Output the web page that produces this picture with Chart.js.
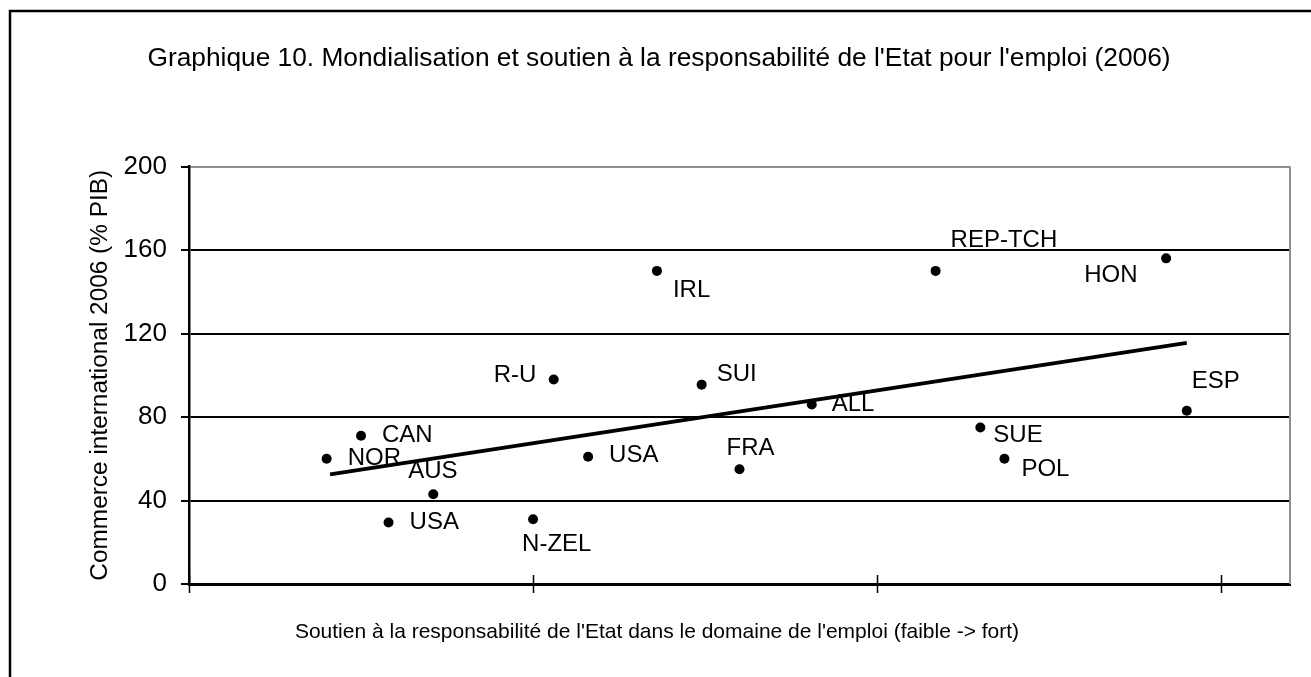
<!DOCTYPE html>
<html><head><meta charset="utf-8">
<script src="https://cdn.jsdelivr.net/npm/chart.js@4.4.1/dist/chart.umd.min.js"></script>
<style>html,body{margin:0;padding:0;background:#fff;overflow:hidden}canvas{display:block}</style>
</head><body>
<canvas id="c" width="1311" height="677"></canvas>
<script>
const countries = ["NOR","CAN","AUS","USA","N-ZEL","R-U","USA","IRL","SUI","FRA","ALL","REP-TCH","HON","ESP","SUE","POL"];
const stateSupport = [0.40,0.50,0.71,0.58,1.00,1.06,1.16,1.36,1.49,1.60,1.81,2.17,2.84,2.90,2.30,2.37];
const tradeShare = [60,71,43,29.5,31,98,61,150,95.5,55,86,150,156,83,75,60];
const trendSupport = [0.41, 2.90];
const trendTrade = [52.5, 115.5];
const yTickValues = [0,40,80,120,160,200];
const xTickValues = [0,1,2,3];
const chartTitle = "Graphique 10. Mondialisation et soutien à la responsabilité de l'Etat pour l'emploi (2006)";
const xTitle = "Soutien à la responsabilité de l'Etat dans le domaine de l'emploi (faible -> fort)";
const yTitle = "Commerce international 2006 (% PIB)";
// label placement (text left edge / vertical centre relative to the marker), styling only
const labelOffsets = [[21,0],[21,0],[-25,-23],[21,0],[-11,25],[-60,-4],[21,-1],[16,19],[15,-10],[-13,-21],[20,0],[15,-31],[-82,17],[5,-29],[13,8],[17,11]];

const FONT = '"Liberation Sans", Arial, sans-serif';

const decor = {
  id: 'decor',
  afterDatasetsDraw(chart) {
    const ctx = chart.ctx;
    const meta = chart.getDatasetMeta(0);
    ctx.save();
    ctx.fillStyle = '#000';
    ctx.font = '24px ' + FONT;
    ctx.textAlign = 'left';
    ctx.textBaseline = 'middle';
    meta.data.forEach((pt, i) => {
      const off = labelOffsets[i];
      ctx.fillText(countries[i], pt.x + off[0], pt.y + off[1]);
    });
    ctx.restore();
  },
  afterDraw(chart) {
    const ctx = chart.ctx;
    const a = chart.chartArea;
    const xs = chart.scales.x;
    ctx.save();
    // right plot border (grey)
    ctx.strokeStyle = '#8f8f8f';
    ctx.lineWidth = 2;
    ctx.beginPath();
    ctx.moveTo(Math.round(a.right), a.top);
    ctx.lineTo(Math.round(a.right), a.bottom);
    ctx.stroke();
    // crossing tick marks on x axis
    ctx.strokeStyle = '#000';
    ctx.lineWidth = 1.5;
    xTickValues.forEach(v => {
      const px = Math.round(xs.getPixelForValue(v)) + 0.5;
      ctx.beginPath();
      ctx.moveTo(px, a.bottom - 9);
      ctx.lineTo(px, a.bottom + 9);
      ctx.stroke();
    });
    // titles
    ctx.fillStyle = '#000';
    ctx.textAlign = 'center';
    ctx.textBaseline = 'middle';
    ctx.font = '26.3px ' + FONT;
    ctx.fillText(chartTitle, 659, 59);
    ctx.font = '21px ' + FONT;
    ctx.fillText(xTitle, 657, 632);
    // outer frame
    ctx.lineWidth = 2.5;
    ctx.beginPath();
    ctx.moveTo(10, chart.height);
    ctx.lineTo(10, 11);
    ctx.lineTo(chart.width, 11);
    ctx.stroke();
    ctx.restore();
  }
};

new Chart(document.getElementById('c').getContext('2d'), {
  type: 'scatter',
  data: {
    datasets: [
      {
        type: 'scatter',
        data: countries.map((c, i) => ({x: stateSupport[i], y: tradeShare[i]})),
        pointRadius: 5,
        pointBackgroundColor: '#000',
        pointBorderWidth: 0,
        order: 2
      },
      {
        type: 'line',
        data: trendSupport.map((x, i) => ({x: x, y: trendTrade[i]})),
        borderColor: '#000',
        borderWidth: 3.8,
        pointRadius: 0,
        fill: false,
        tension: 0,
        order: 1
      }
    ]
  },
  options: {
    responsive: false,
    devicePixelRatio: 1,
    animation: false,
    layout: {padding: {left: 0, right: 21, top: 166.5, bottom: 0}},
    plugins: {
      legend: {display: false},
      tooltip: {enabled: false},
      title: {display: false}
    },
    scales: {
      x: {
        type: 'linear', min: 0, max: 3.2,
        afterBuildTicks: s => { s.ticks = xTickValues.map(v => ({value: v})); },
        ticks: {display: false},
        grid: {display: false},
        border: {display: true, color: '#000', width: 3},
        title: {display: false},
        afterFit: s => { s.height = 93; }
      },
      y: {
        type: 'linear', min: 0, max: 200,
        afterBuildTicks: s => { s.ticks = yTickValues.map(v => ({value: v})); },
        ticks: {color: '#000', font: {family: FONT, size: 26}, padding: 14},
        grid: {
          color: c => (c.tick && c.tick.value === 200) ? '#8f8f8f' : '#000',
          lineWidth: 2, tickLength: 8, tickColor: '#000', drawTicks: true
        },
        border: {color: '#000', width: 2.5},
        title: {
          display: true,
          text: yTitle,
          color: '#000',
          font: {family: FONT, size: 24.4},
          padding: {top: 86, bottom: 0}
        },
        afterFit: s => { s.width = 189; }
      }
    }
  },
  plugins: [decor]
});
</script>
</body></html>
